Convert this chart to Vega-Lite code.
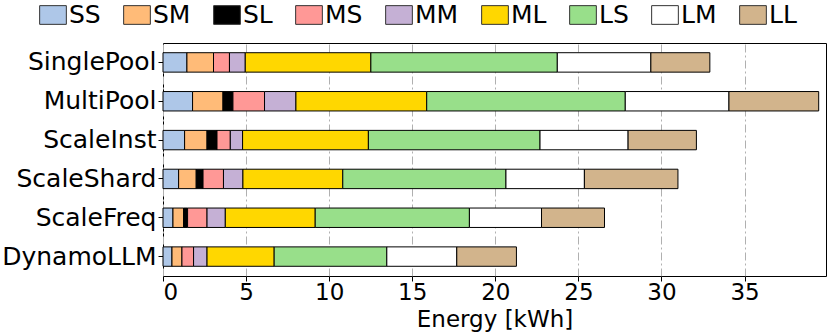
{
  "$schema": "https://vega.github.io/schema/vega-lite/v6.json",
  "autosize": {"type": "none"},
  "width": 663,
  "height": 233,
  "padding": {"left": 163, "top": 43, "right": 4, "bottom": 57},
  "config": {
    "font": "DejaVu Sans",
    "view": {"stroke": "#000000", "strokeWidth": 1},
    "axis": {"labelFont": "DejaVu Sans", "titleFont": "DejaVu Sans", "labelColor": "#000000", "titleColor": "#000000", "tickColor": "#000000", "domain": false}
  },
  "data": {
    "values": [
      {"system": "SinglePool", "type": "SS", "k": 0, "energy": 1.44},
      {"system": "SinglePool", "type": "SM", "k": 1, "energy": 1.60},
      {"system": "SinglePool", "type": "MS", "k": 3, "energy": 0.96},
      {"system": "SinglePool", "type": "MM", "k": 4, "energy": 0.95},
      {"system": "SinglePool", "type": "ML", "k": 5, "energy": 7.56},
      {"system": "SinglePool", "type": "LS", "k": 6, "energy": 11.22},
      {"system": "SinglePool", "type": "LM", "k": 7, "energy": 5.63},
      {"system": "SinglePool", "type": "LL", "k": 8, "energy": 3.55},
      {"system": "MultiPool", "type": "SS", "k": 0, "energy": 1.78},
      {"system": "MultiPool", "type": "SM", "k": 1, "energy": 1.83},
      {"system": "MultiPool", "type": "SL", "k": 2, "energy": 0.60},
      {"system": "MultiPool", "type": "MS", "k": 3, "energy": 1.90},
      {"system": "MultiPool", "type": "MM", "k": 4, "energy": 1.89},
      {"system": "MultiPool", "type": "ML", "k": 5, "energy": 7.87},
      {"system": "MultiPool", "type": "LS", "k": 6, "energy": 11.95},
      {"system": "MultiPool", "type": "LM", "k": 7, "energy": 6.24},
      {"system": "MultiPool", "type": "LL", "k": 8, "energy": 5.40},
      {"system": "ScaleInst", "type": "SS", "k": 0, "energy": 1.30},
      {"system": "ScaleInst", "type": "SM", "k": 1, "energy": 1.35},
      {"system": "ScaleInst", "type": "SL", "k": 2, "energy": 0.60},
      {"system": "ScaleInst", "type": "MS", "k": 3, "energy": 0.80},
      {"system": "ScaleInst", "type": "MM", "k": 4, "energy": 0.74},
      {"system": "ScaleInst", "type": "ML", "k": 5, "energy": 7.57},
      {"system": "ScaleInst", "type": "LS", "k": 6, "energy": 10.33},
      {"system": "ScaleInst", "type": "LM", "k": 7, "energy": 5.30},
      {"system": "ScaleInst", "type": "LL", "k": 8, "energy": 4.11},
      {"system": "ScaleShard", "type": "SS", "k": 0, "energy": 0.94},
      {"system": "ScaleShard", "type": "SM", "k": 1, "energy": 1.06},
      {"system": "ScaleShard", "type": "SL", "k": 2, "energy": 0.41},
      {"system": "ScaleShard", "type": "MS", "k": 3, "energy": 1.23},
      {"system": "ScaleShard", "type": "MM", "k": 4, "energy": 1.17},
      {"system": "ScaleShard", "type": "ML", "k": 5, "energy": 6.01},
      {"system": "ScaleShard", "type": "LS", "k": 6, "energy": 9.82},
      {"system": "ScaleShard", "type": "LM", "k": 7, "energy": 4.72},
      {"system": "ScaleShard", "type": "LL", "k": 8, "energy": 5.63},
      {"system": "ScaleFreq", "type": "SS", "k": 0, "energy": 0.60},
      {"system": "ScaleFreq", "type": "SM", "k": 1, "energy": 0.64},
      {"system": "ScaleFreq", "type": "SL", "k": 2, "energy": 0.24},
      {"system": "ScaleFreq", "type": "MS", "k": 3, "energy": 1.17},
      {"system": "ScaleFreq", "type": "MM", "k": 4, "energy": 1.10},
      {"system": "ScaleFreq", "type": "ML", "k": 5, "energy": 5.41},
      {"system": "ScaleFreq", "type": "LS", "k": 6, "energy": 9.28},
      {"system": "ScaleFreq", "type": "LM", "k": 7, "energy": 4.34},
      {"system": "ScaleFreq", "type": "LL", "k": 8, "energy": 3.79},
      {"system": "DynamoLLM", "type": "SS", "k": 0, "energy": 0.54},
      {"system": "DynamoLLM", "type": "SM", "k": 1, "energy": 0.60},
      {"system": "DynamoLLM", "type": "MS", "k": 3, "energy": 0.70},
      {"system": "DynamoLLM", "type": "MM", "k": 4, "energy": 0.81},
      {"system": "DynamoLLM", "type": "ML", "k": 5, "energy": 4.04},
      {"system": "DynamoLLM", "type": "LS", "k": 6, "energy": 6.78},
      {"system": "DynamoLLM", "type": "LM", "k": 7, "energy": 4.21},
      {"system": "DynamoLLM", "type": "LL", "k": 8, "energy": 3.59}
    ]
  },
  "mark": {"type": "bar", "stroke": "#000000", "strokeWidth": 1, "opacity": 1},
  "encoding": {
    "y": {
      "field": "system",
      "type": "nominal",
      "sort": ["SinglePool", "MultiPool", "ScaleInst", "ScaleShard", "ScaleFreq", "DynamoLLM"],
      "scale": {"paddingInner": 0.5, "paddingOuter": 0.25},
      "axis": {"title": null, "labelFontSize": 25, "tickSize": 5, "labelPadding": 2, "ticks": true, "grid": false}
    },
    "x": {
      "field": "energy",
      "type": "quantitative",
      "stack": "zero",
      "scale": {"domain": [0, 39.9], "nice": false, "zero": true},
      "axis": {
        "title": "Energy [kWh]",
        "titleFontSize": 23,
        "titleFontWeight": "normal",
        "titlePadding": 4,
        "labelFontSize": 23,
        "tickSize": 5,
        "labelPadding": 0,
        "values": [0, 5, 10, 15, 20, 25, 30, 35],
        "grid": true,
        "gridColor": "#b0b0b0",
        "gridDash": [8, 3, 2, 3],
        "gridWidth": 1
      }
    },
    "color": {
      "field": "type",
      "type": "nominal",
      "scale": {
        "domain": ["SS", "SM", "SL", "MS", "MM", "ML", "LS", "LM", "LL"],
        "range": ["#aec7e8", "#ffbb78", "#000000", "#ff9896", "#c5b0d5", "#ffd700", "#98df8a", "#ffffff", "#d2b48c"]
      },
      "legend": {
        "title": null,
        "orient": "none",
        "direction": "horizontal",
        "columns": 9,
        "legendX": -124,
        "legendY": -42,
        "padding": 0,
        "symbolType": "M-1,-0.7L1,-0.7L1,0.7L-1,0.7Z",
        "symbolSize": 713,
        "symbolStrokeColor": "#333333",
        "symbolStrokeWidth": 1,
        "symbolOpacity": 1,
        "labelFontSize": 25,
        "labelFont": "DejaVu Sans",
        "labelColor": "#000000",
        "labelOffset": 2,
        "columnPadding": 20,
        "labelLimit": 0
      }
    },
    "order": {"field": "k", "type": "quantitative"}
  }
}
